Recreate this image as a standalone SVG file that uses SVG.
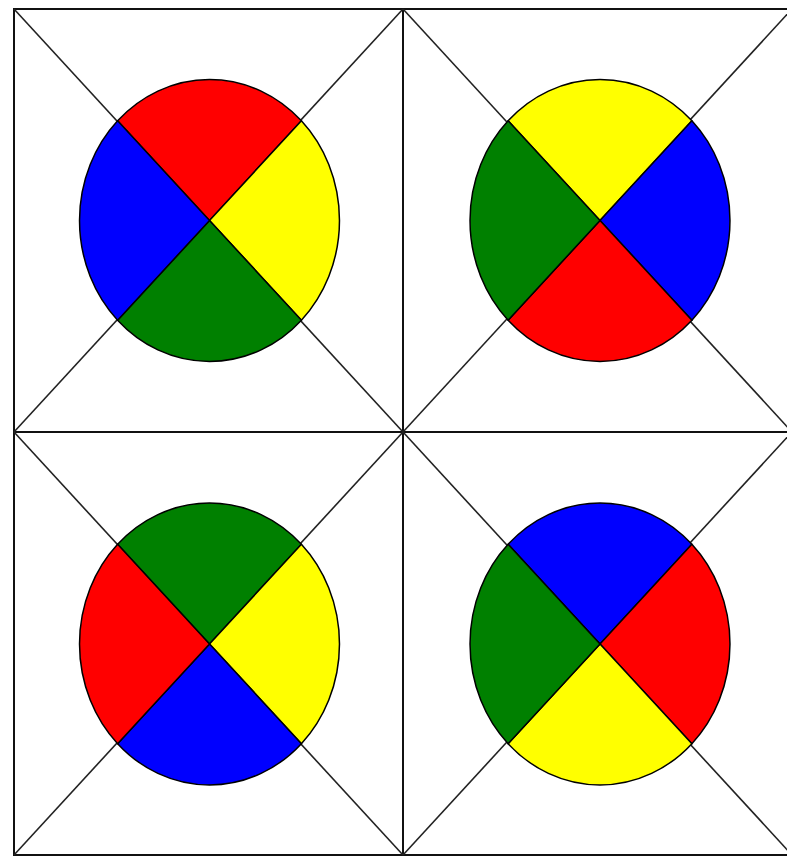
<svg xmlns="http://www.w3.org/2000/svg" xmlns:xlink="http://www.w3.org/1999/xlink" width="787" height="857" viewBox="0 0 787 857">
<style>
.frame{fill:none;stroke:#111;stroke-width:2}
.diag{stroke:#222;stroke-width:1.6;fill:none}
.q{stroke:#000;stroke-width:1.5;stroke-linejoin:round}
.r{fill:#ff0000}.y{fill:#ffff00}.g{fill:#008000}.b{fill:#0000ff}
</style>
<defs>
<path id="qt" d="M0,0 L-91.9,-99.7 A130,141 0 0 1 91.9,-99.7 Z"/>
<path id="qr" d="M0,0 L91.9,-99.7 A130,141 0 0 1 91.9,99.7 Z"/>
<path id="qb" d="M0,0 L91.9,99.7 A130,141 0 0 1 -91.9,99.7 Z"/>
<path id="ql" d="M0,0 L-91.9,99.7 A130,141 0 0 1 -91.9,-99.7 Z"/>
</defs>
<rect width="787" height="857" fill="#fff"/>
<g id="connectors">
<rect class="frame" x="14" y="9" width="778" height="846"/>
<line class="frame" x1="403" y1="9" x2="403" y2="855"/>
<line class="frame" x1="14" y1="432" x2="792" y2="432"/>
<line class="diag" x1="14" y1="9" x2="403" y2="432"/>
<line class="diag" x1="403" y1="9" x2="14" y2="432"/>
<line class="diag" x1="403" y1="9" x2="792" y2="432"/>
<line class="diag" x1="792" y1="9" x2="403" y2="432"/>
<line class="diag" x1="14" y1="432" x2="403" y2="855"/>
<line class="diag" x1="403" y1="432" x2="14" y2="855"/>
<line class="diag" x1="403" y1="432" x2="792" y2="855"/>
<line class="diag" x1="792" y1="432" x2="403" y2="855"/>
</g>
<g id="circle-tl" transform="translate(209.5,220.5)">
<use xlink:href="#qt" class="q r"/><use xlink:href="#qr" class="q y"/><use xlink:href="#qb" class="q g"/><use xlink:href="#ql" class="q b"/>
</g>
<g id="circle-tr" transform="translate(600,220.5)">
<use xlink:href="#qt" class="q y"/><use xlink:href="#qr" class="q b"/><use xlink:href="#qb" class="q r"/><use xlink:href="#ql" class="q g"/>
</g>
<g id="circle-bl" transform="translate(209.5,644)">
<use xlink:href="#qt" class="q g"/><use xlink:href="#qr" class="q y"/><use xlink:href="#qb" class="q b"/><use xlink:href="#ql" class="q r"/>
</g>
<g id="circle-br" transform="translate(600,644)">
<use xlink:href="#qt" class="q b"/><use xlink:href="#qr" class="q r"/><use xlink:href="#qb" class="q y"/><use xlink:href="#ql" class="q g"/>
</g>
</svg>
